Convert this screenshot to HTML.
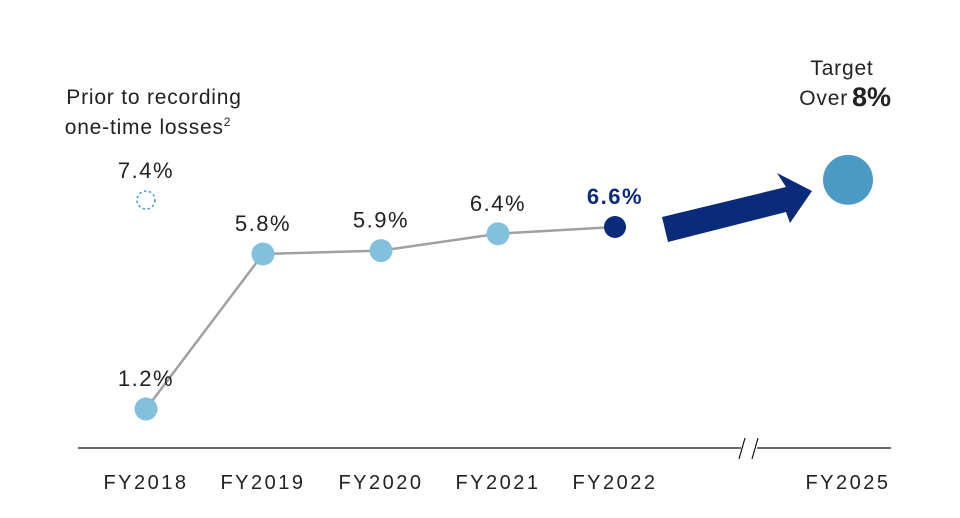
<!DOCTYPE html>
<html><head><meta charset="utf-8"><style>
html,body{margin:0;padding:0;background:#fff;}
svg{display:block;font-family:"Liberation Sans",sans-serif;}
</style></head><body>
<svg id="chart" width="960" height="518" viewBox="0 0 960 518">
<g id="axis">
<line x1="78" y1="448" x2="741" y2="448" stroke="#111" stroke-width="1.2"/>
<line x1="757" y1="448" x2="891" y2="448" stroke="#111" stroke-width="1.2"/>
<line x1="739" y1="459" x2="745" y2="438" stroke="#111" stroke-width="1.2"/>
<line x1="752" y1="459" x2="758" y2="438" stroke="#111" stroke-width="1.2"/>
</g>
<g id="marks"></g>
<g>
<text x="154" y="104" font-size="21" letter-spacing="0.8" text-anchor="middle" fill="#222">Prior to recording</text>
<text x="148" y="134" font-size="21" letter-spacing="0.8" text-anchor="middle" fill="#222">one-time losses<tspan font-size="12" dy="-8">2</tspan></text>
</g>
<g>
<polygon points="662,217 786,187 777,173 812,191 790,223 786,212 668,242" fill="#0a2a7a"/>
<text x="842" y="75" font-size="21" letter-spacing="0.8" text-anchor="middle" fill="#222">Target</text>
<text x="848" y="105" font-size="21" letter-spacing="0.8" text-anchor="end" fill="#222">Over</text>
<text x="852" y="106" font-size="27" font-weight="bold" fill="#222">8%</text>
</g>
</svg>
<script>
const categories=["FY2018","FY2019","FY2020","FY2021","FY2022","FY2025"];
const values=[1.2,5.8,5.9,6.4,6.6];
const labels=["1.2%","5.8%","5.9%","6.4%","6.6%"];
const priorValue=7.4;
const priorLabel="7.4%";
const targetValue=8;
const NS="http://www.w3.org/2000/svg";
const xs=[146,263,381,498,615,848];
function xScale(i){return xs[i];}
function yScale(v){return 409-(v-1.2)*33.7;}
const svg=document.getElementById('chart');
const g=document.getElementById('marks');
function el(t,a,p){const e=document.createElementNS(NS,t);for(const k in a)e.setAttribute(k,a[k]);(p||g).appendChild(e);return e;}
categories.forEach((c,i)=>{
  const t=el('text',{x:xScale(i),y:489,'font-size':20,'letter-spacing':2.5,'text-anchor':'middle',fill:'#222'},svg);
  t.textContent=c;
  
  
});
const pts=values.map((v,i)=>xScale(i)+','+yScale(v)).join(' ');
const pl=el('polyline',{points:pts,fill:'none',stroke:'#a0a0a0','stroke-width':2.5});


values.forEach((v,i)=>{
  const last=i===values.length-1;
  const c=el('circle',{cx:xScale(i),cy:yScale(v),r:last?11:11.5,fill:last?'#0a2a7a':'#82c0de'});
  
  
  const t=el('text',{x:xScale(i),y:yScale(v)-23,'font-size':22,'letter-spacing':1.5,'text-anchor':'middle',fill:last?'#0a2a7a':'#222','font-weight':last?'bold':'normal'});
  t.textContent=labels[i];
  
  
});
const pc=el('circle',{cx:xScale(0),cy:yScale(priorValue),r:9,fill:'none',stroke:'#4a9ac4','stroke-width':1.5,'stroke-dasharray':'2.5 2.5'});


const pt=el('text',{x:xScale(0),y:yScale(priorValue)-22,'font-size':22,'letter-spacing':1.5,'text-anchor':'middle',fill:'#222'});
pt.textContent=priorLabel;


const tc=el('circle',{cx:xScale(5),cy:yScale(targetValue),r:25,fill:'#4a9ac4'});


</script>
</body></html>
